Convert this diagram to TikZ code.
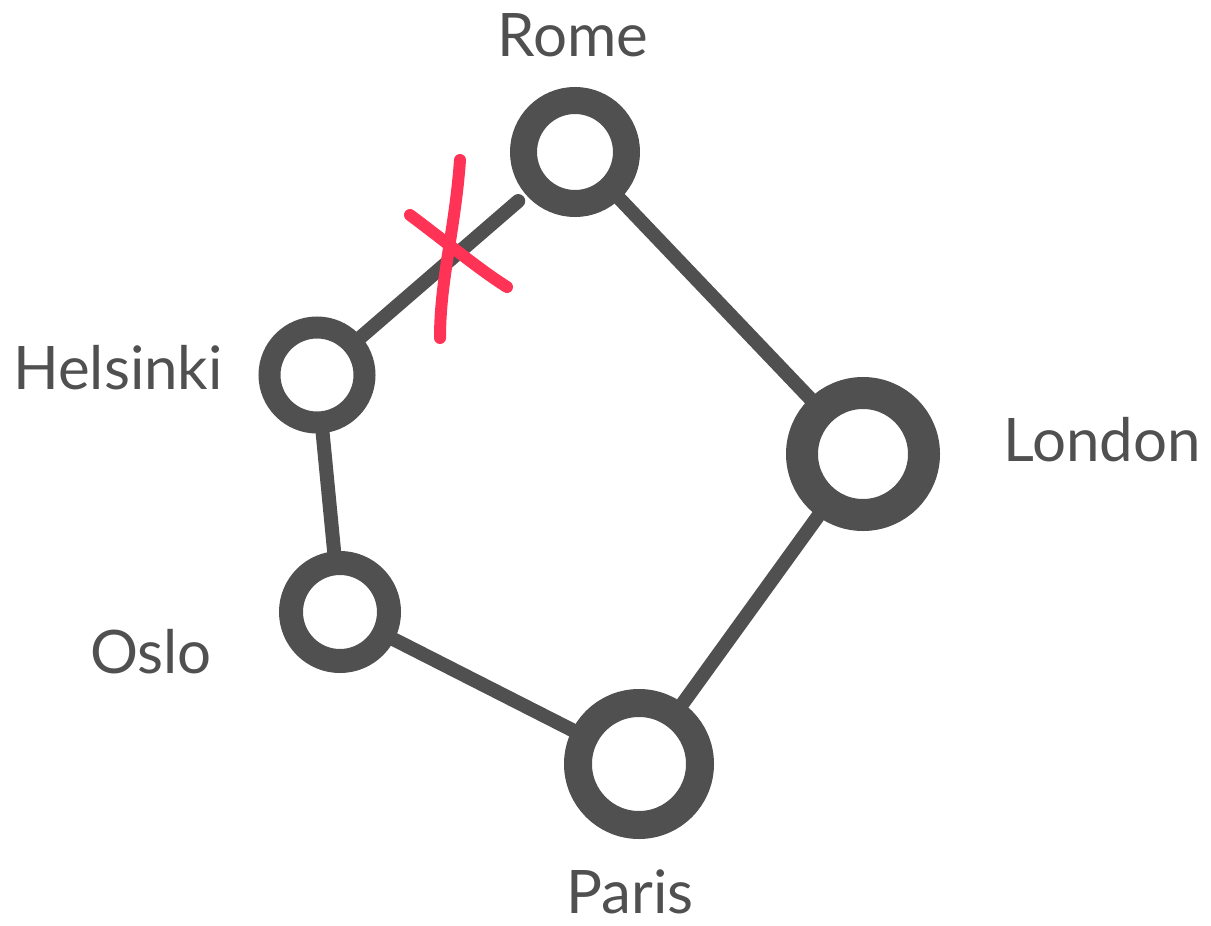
\documentclass[tikz,border=0pt]{standalone}
\usepackage{fontspec}
\setmainfont{Lato}
\usepackage{tikz}

\definecolor{ink}{HTML}{505050}
\definecolor{cross}{HTML}{FF3355}

\begin{document}
\begin{tikzpicture}[x=1pt, y=-1pt,
  city/.style={circle, draw=ink, inner sep=0pt},
  road/.style={draw=ink, line width=14pt, line cap=round},
  place/.style={text=ink, inner sep=2pt, font=\fontsize{60}{66}\selectfont}]
  \useasboundingbox (0,0) rectangle (1211,926);

  % Cities (hand drawn rings)
  \node[city, line width=27pt, minimum size=103pt] (rome) at (575,152) {};
  \node[city, line width=22pt, minimum size=95pt] (helsinki) at (317,375) {};
  \node[city, line width=32pt, minimum size=122pt] (london) at (863,454) {};
  \node[city, line width=24pt, minimum size=98pt] (oslo) at (340,612) {};
  \node[city, line width=28pt, minimum size=122pt] (paris) at (639,764) {};

  % Roads
  \draw[road] (rome) -- (london);
  \draw[road] (london) -- (paris);
  \draw[road] (paris) -- (oslo);
  \draw[road] (oslo) -- (helsinki);
  \draw[road, shorten <=10pt] (rome) -- (helsinki);

  % Broken road (red cross)
  \draw[cross, line width=12pt, line cap=round]
    (460,160) .. controls (455,230) and (440,280) .. (440,338);
  \draw[cross, line width=12pt, line cap=round]
    (410,215) .. controls (450,245) and (480,270) .. (507,287);

  % Labels
  \node[place] (lrome) at (573,35) {Rome};
  \node[place] (lhelsinki) at (118,368) {Helsinki};
  \node[place] (llondon) at (1102,440) {London};
  \node[place] (loslo) at (151,652) {Oslo};
  \node[place] (lparis) at (630,892) {Paris};
\end{tikzpicture}
\end{document}
